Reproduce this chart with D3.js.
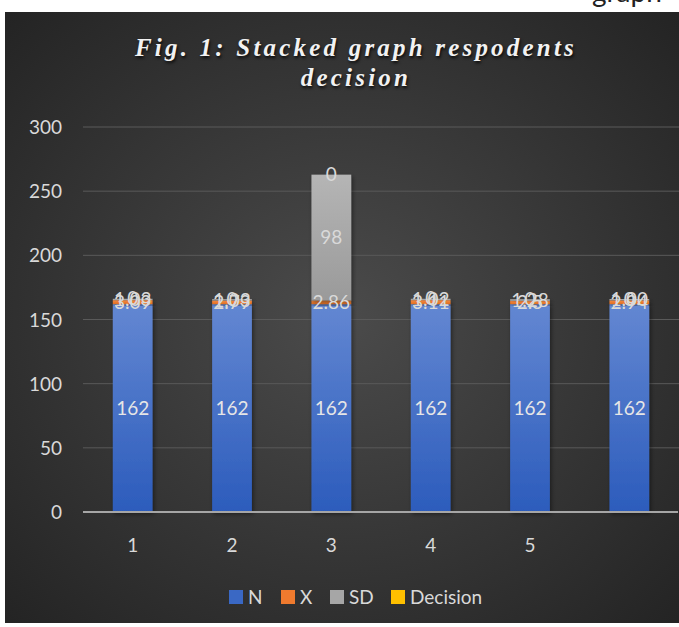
<!DOCTYPE html>
<html>
<head>
<meta charset="utf-8">
<script src="https://cdn.jsdelivr.net/npm/d3@7"></script>
<style>
  html, body { margin: 0; padding: 0; background: #ffffff; }
  svg { display: block; }
</style>
</head>
<body>
<script>
// Stacked bars of respondents' decision: N, X (mean), SD, Decision
const categories = ["1", "2", "3", "4", "5", ""];
const nValues = [162, 162, 162, 162, 162, 162];
const xValues = [3.09, 2.79, 2.86, 3.11, 2.5, 2.94];
const sdValues = [1.03, 1.03, 98, 1.02, 1.28, 1.00];
const decisionValues = [0, 0, 0, 0, 0, 0];
const yTicks = [0, 50, 100, 150, 200, 250, 300];
const seriesNames = ["N", "X", "SD", "Decision"];

const W = 679, H = 627;
const panel = { x: 5, y: 12, w: 674, h: 611 };
const plot = { left: 83, right: 679, top: 127, bottom: 512 };

const svg = d3.select("body").append("svg").attr("width", W).attr("height", H);
const defs = svg.append("defs");

const bg = defs.append("radialGradient").attr("id", "bg")
  .attr("cx", "50%").attr("cy", "50%").attr("r", "70%");
bg.append("stop").attr("offset", "0%").attr("stop-color", "#4b4b4b");
bg.append("stop").attr("offset", "100%").attr("stop-color", "#242424");

function vGrad(id, top, bottom) {
  const g = defs.append("linearGradient").attr("id", id)
    .attr("x1", 0).attr("y1", 0).attr("x2", 0).attr("y2", 1);
  g.append("stop").attr("offset", "0%").attr("stop-color", top);
  g.append("stop").attr("offset", "100%").attr("stop-color", bottom);
}
vGrad("gN", "#6387d2", "#2c5cbc");
vGrad("gX", "#f28a45", "#e26f1f");
vGrad("gSD", "#b5b5b5", "#9a9a9a");
vGrad("gD", "#ffd033", "#f2b600");

const shadow = defs.append("filter").attr("id", "shadow")
  .attr("x", "-20%").attr("y", "-20%").attr("width", "150%").attr("height", "150%");
shadow.append("feDropShadow").attr("dx", 1.5).attr("dy", 2).attr("stdDeviation", 2)
  .attr("flood-color", "#000").attr("flood-opacity", 0.45);

// descenders of the surrounding document line above the panel
svg.append("text").attr("x", 592).attr("y", 2)
  .attr("font-family", "Lato, 'Open Sans', sans-serif").attr("font-size", 28)
  .attr("fill", "#222").text("graph");

svg.append("rect").attr("x", panel.x).attr("y", panel.y)
  .attr("width", panel.w).attr("height", panel.h).attr("fill", "url(#bg)");

const font = "Lato, 'Open Sans', sans-serif";

const x = d3.scaleBand().domain(d3.range(categories.length))
  .range([plot.left, plot.right]).paddingInner(0.6).paddingOuter(0.3);
const y = d3.scaleLinear().domain([0, 300]).range([plot.bottom, plot.top]);

// gridlines
svg.append("g").selectAll("line").data(yTicks.filter(t => t > 0)).join("line")
  .attr("x1", plot.left).attr("x2", plot.right)
  .attr("y1", d => y(d)).attr("y2", d => y(d))
  .attr("stroke", "#5a5a5a").attr("stroke-width", 1);

// y axis labels
const yAxis = d3.axisLeft(y).tickValues(yTicks).tickSize(0).tickPadding(0);
const yg = svg.append("g").attr("transform", `translate(62,0)`).call(yAxis);
yg.select(".domain").remove();
yg.selectAll("text").attr("font-family", font).attr("font-size", 19)
  .attr("fill", "#d9d9d9").attr("text-anchor", "end").attr("dy", "0.35em");

// stacked data
const rows = categories.map((c, i) => ({
  i, N: nValues[i], X: xValues[i], SD: sdValues[i], Decision: decisionValues[i]
}));
const stack = d3.stack().keys(seriesNames)(rows);
const fills = { N: "url(#gN)", X: "url(#gX)", SD: "url(#gSD)", Decision: "url(#gD)" };

const barsG = svg.append("g");
stack.forEach(layer => {
  barsG.append("g").selectAll("rect").data(layer).join("rect")
    .attr("x", d => x(d.data.i))
    .attr("width", x.bandwidth())
    .attr("y", d => y(d[1]))
    .attr("height", d => Math.max(0, y(d[0]) - y(d[1])))
    .attr("fill", fills[layer.key])
    .attr("filter", "url(#shadow)");
});

// x axis line
svg.append("line").attr("x1", plot.left).attr("x2", plot.right - 1)
  .attr("y1", y(0)).attr("y2", y(0))
  .attr("stroke", "#a6a6a6").attr("stroke-width", 2);

// x axis labels
const xAxis = d3.axisBottom(x).tickFormat(i => categories[i]).tickSize(0).tickPadding(0);
const xg = svg.append("g").attr("transform", `translate(0,${y(0) + 33})`).call(xAxis);
xg.select(".domain").remove();
xg.selectAll("text").attr("font-family", font).attr("font-size", 19)
  .attr("fill", "#d9d9d9").attr("dy", "0.35em");

// data labels, centred in each segment
const fmt = {
  N: v => String(v),
  X: v => String(v),
  SD: v => (v < 10 ? v.toFixed(2) : String(v)),
  Decision: v => String(v)
};
const labelsG = svg.append("g");
stack.forEach(layer => {
  labelsG.append("g").selectAll("text").data(layer).join("text")
    .attr("x", d => x(d.data.i) + x.bandwidth() / 2)
    .attr("y", d => y((d[0] + d[1]) / 2))
    .attr("dy", "0.35em")
    .attr("text-anchor", "middle")
    .attr("font-family", font).attr("font-size", 19)
    .attr("fill", layer.key === "N" ? "#e6e6e6" : "#d9d9d9")
    .text(d => fmt[layer.key](d.data[layer.key]));
});

// title
const title = svg.append("text").attr("text-anchor", "middle")
  .attr("font-family", "'Liberation Serif', 'DejaVu Serif', serif")
  .attr("font-weight", "bold").attr("font-style", "italic")
  .attr("font-size", 25).attr("letter-spacing", 3.2)
  .attr("fill", "#f2f2f2")
  .style("text-shadow", "1px 2px 3px rgba(0,0,0,0.8)");
title.append("tspan").attr("x", 356).attr("y", 56).text("Fig. 1: Stacked graph respodents");
title.append("tspan").attr("x", 356).attr("y", 86).text("decision");

// legend
const legendColors = ["#3a68c4", "#ef7a2e", "#a6a6a6", "#ffc000"];
const legendX = [229, 281, 330, 391];
const lg = svg.append("g");
seriesNames.forEach((name, i) => {
  lg.append("rect").attr("x", legendX[i]).attr("y", 590)
    .attr("width", 14).attr("height", 14).attr("fill", legendColors[i]);
  lg.append("text").attr("x", legendX[i] + 19).attr("y", 597).attr("dy", "0.35em")
    .attr("font-family", font).attr("font-size", 19).attr("fill", "#d9d9d9")
    .text(name);
});
</script>
</body>
</html>
